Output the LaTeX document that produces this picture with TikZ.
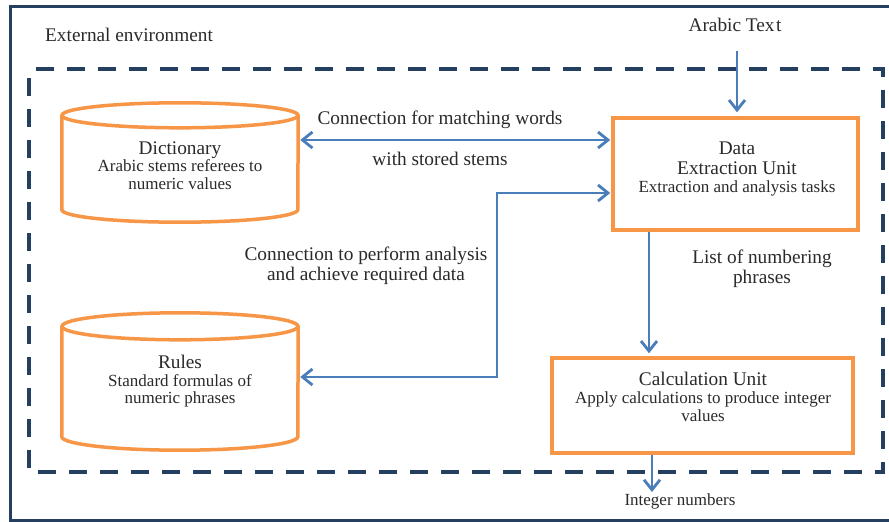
\documentclass[tikz,border=0pt]{standalone}
\usepackage{fontspec}
\setmainfont{Liberation Serif}
\usetikzlibrary{arrows.meta,calc}
\definecolor{navy}{HTML}{243F60}
\definecolor{orng}{HTML}{F79646}
\definecolor{arrblue}{HTML}{4A7EBB}
\definecolor{txt}{HTML}{2A2A2A}
\begin{document}
\begin{tikzpicture}[x=1pt,y=1pt,
  big/.style={font=\fontsize{19.3}{21}\selectfont, text=txt, inner sep=0pt, anchor=base},
  sml/.style={font=\fontsize{17}{19}\selectfont, text=txt, inner sep=0pt, anchor=base},
  unitbox/.style={draw=orng, line width=3.5pt, inner sep=0pt},
  body/.style={inner sep=0pt, minimum width=236pt},
  cyl/.style={draw=orng, line width=3.5pt},
  conn/.style={draw=arrblue, line width=2.8pt, arrows={-Straight Barb[length=10pt,width=16pt]}},
  conntwo/.style={draw=arrblue, line width=2.8pt, arrows={Straight Barb[length=10pt,width=16pt]-Straight Barb[length=10pt,width=16pt]}},
]
\useasboundingbox (0,0) rectangle (889,-522);
\fill[white] (0,0) rectangle (889,-522);
% outer frame and dashed system boundary
\draw[navy, line width=3pt] (10,-6) rectangle (896,-520);
\draw[navy, line width=3.5pt, dash pattern=on 18pt off 13pt, dash phase=22pt] (29,-69) rectangle (883,-472);

% dictionary cylinder
\node[body, minimum height=119pt] (dict) at (180,-162.5) {};
\draw[cyl] ([yshift=-12.5pt]dict.north west) -- ([yshift=12.5pt]dict.south west)
  arc[start angle=180, end angle=360, x radius=118pt, y radius=12.5pt]
  -- ([yshift=-12.5pt]dict.north east);
\draw[cyl] ([yshift=-12.5pt]dict.north) ellipse [x radius=118pt, y radius=12.5pt];
\node[big] (dictt) at (180,-154) {Dictionary};
\node[sml] (dicta) at (180,-171) {Arabic stems referees to};
\node[sml] (dictb) at (180,-189) {numeric values};

% rules cylinder
\node[body, minimum height=137pt] (rules) at (180,-381.5) {};
\draw[cyl] ([yshift=-13.5pt]rules.north west) -- ([yshift=13.5pt]rules.south west)
  arc[start angle=180, end angle=360, x radius=118pt, y radius=13.5pt]
  -- ([yshift=-13.5pt]rules.north east);
\draw[cyl] ([yshift=-13.5pt]rules.north) ellipse [x radius=118pt, y radius=13.5pt];
\node[big] (rulest) at (180,-368) {Rules};
\node[sml] (rulesa) at (180,-386) {Standard formulas of};
\node[sml] (rulesb) at (180,-403) {numeric phrases};

% data extraction unit
\node[unitbox, minimum width=245pt, minimum height=112pt] (data) at (735.5,-174) {};
\node[big] (datat) at (737,-154) {Data};
\node[big] (datau) at (737,-174) {Extraction Unit};
\node[sml] (dataa) at (737,-192) {Extraction and analysis tasks};

% calculation unit
\node[unitbox, minimum width=301pt, minimum height=95pt] (calc) at (702.5,-405.5) {};
\node[big] (calct) at (703,-385) {Calculation Unit};
\node[sml] (calca) at (703,-403) {Apply calculations to produce integer};
\node[sml] (calcb) at (703,-421) {values};

% free labels
\node[big, anchor=base west] (extenv) at (45,-41) {External environment};
\node[big] (arabic) at (735,-31) {Arabic Tex\hspace{1.5pt}t};
\node[big] (lblA) at (440,-124) {Connection for matching words};
\node[big] (lblB) at (440,-165) {with stored stems};
\node[big] (lblC) at (366,-260) {Connection to perform analysis};
\node[big] (lblD) at (366,-280) {and achieve required data};
\node[big] (lblE) at (762,-263) {List of numbering};
\node[big] (lblF) at (762,-283) {phrases};
\node[sml] (intnum) at (680,-505) {Integer numbers};

% connectors
\coordinate (bend) at (497,-193);
\draw[conn] ($(arabic.south -| data.north)+(1.5,-20)$) -- ($(data.north)+(1.5,4)$);
\draw[conntwo] ($(dict.east |- 0,-140)+(2,0)$) -- ($(data.west |- 0,-140)+(-1,0)$);
\draw[conntwo] ($(rules.east |- 0,-377)+(2,0)$) -| (bend) -- ($(data.west |- bend)+(-1,0)$);
\draw[conn] (data.south -| 649,0) -- ($(calc.north -| 649,0)+(0,3)$);
\draw[conn] (calc.south -| 652,0) -- ($(intnum.north -| 652,0)+(0,1)$);
\end{tikzpicture}
\end{document}
